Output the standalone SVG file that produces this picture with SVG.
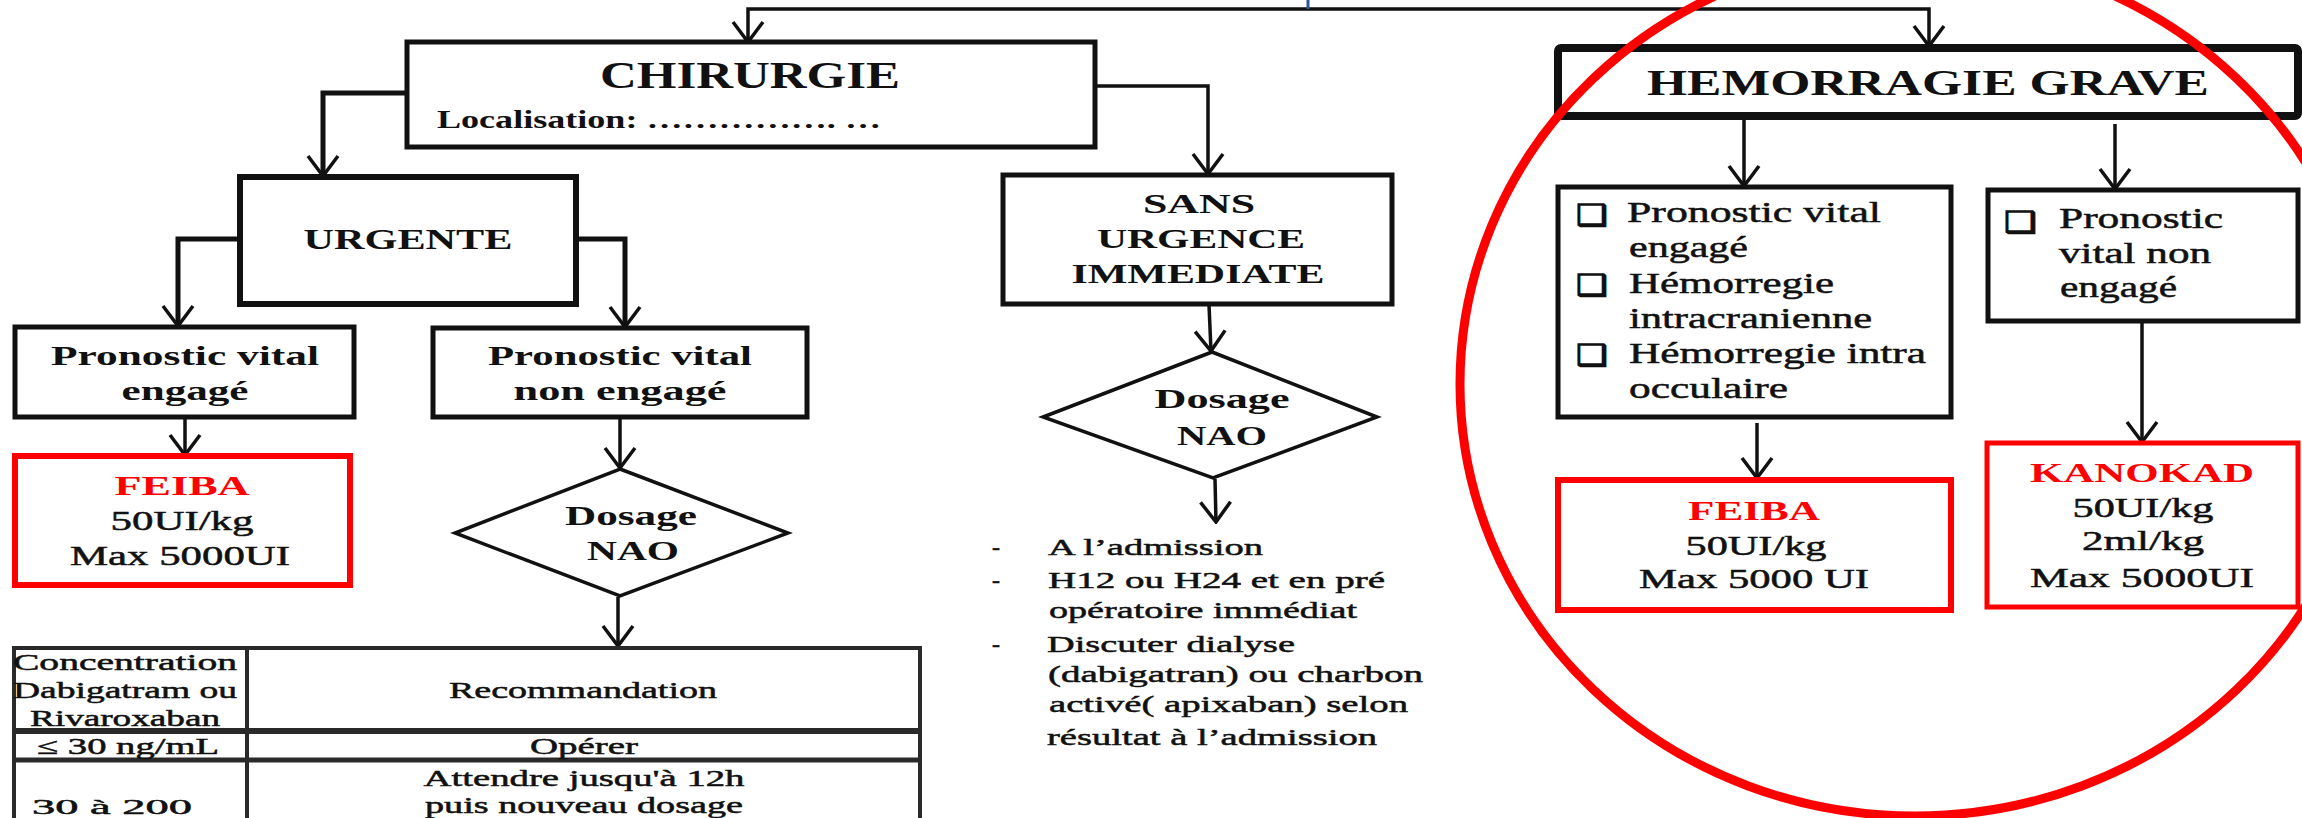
<svg xmlns="http://www.w3.org/2000/svg" width="2302" height="818" viewBox="0 0 2302 818">
<style>
text{font-family:"Liberation Serif","Times New Roman",serif;fill:#111}
.b{font-weight:bold}
.r{stroke:#111;stroke-width:0.5}
.c{text-anchor:middle}
.red{fill:#f00}
.box{fill:#fff;stroke:#111}
.rbox{fill:#fff;stroke:#f00}
.ln{fill:none;stroke:#111;stroke-width:3.5}
.tb{fill:none;stroke:#2a2a2a;stroke-width:4}
.chk{font-family:"DejaVu Sans",sans-serif;font-weight:bold;stroke:#111;stroke-width:1.2}
</style>
<defs>
<marker id="ah" viewBox="-2 -2 24 34" refX="20" refY="15" markerWidth="24" markerHeight="34" markerUnits="userSpaceOnUse" orient="auto">
<path d="M0,0 L20,15 L0,30" fill="none" stroke="#111" stroke-width="3.5"/>
</marker>
</defs>
<rect width="2302" height="818" fill="#fff"/>

<g id="connectors">
<path class="ln" d="M1308,9 L748,9 L748,42" marker-end="url(#ah)"/>
<path class="ln" d="M1308,9 L1929,9 L1929,46" marker-end="url(#ah)"/>
<line x1="1308" y1="0" x2="1308" y2="9" stroke="#2E5597" stroke-width="3"/>
<path class="ln" style="stroke-width:5" d="M407,93 L323,93 L323,176" marker-end="url(#ah)"/>
<path class="ln" d="M1094,86 L1208,86 L1208,174" marker-end="url(#ah)"/>
<path class="ln" style="stroke-width:5" d="M240,239 L178,239 L178,326" marker-end="url(#ah)"/>
<path class="ln" style="stroke-width:5" d="M576,239 L625,239 L625,327" marker-end="url(#ah)"/>
<path class="ln" d="M185,418 L185,455" marker-end="url(#ah)"/>
<path class="ln" d="M620,418 L620,468" marker-end="url(#ah)"/>
<path class="ln" d="M618,597 L618,646" marker-end="url(#ah)"/>
<path class="ln" d="M1209,305 L1211,351" marker-end="url(#ah)"/>
<path class="ln" d="M1215,479 L1216,522" marker-end="url(#ah)"/>
<path class="ln" d="M1744,118 L1744,186" marker-end="url(#ah)"/>
<path class="ln" d="M2115,124 L2115,189" marker-end="url(#ah)"/>
<path class="ln" d="M1757,423 L1757,478" marker-end="url(#ah)"/>
<path class="ln" d="M2142,322 L2142,442" marker-end="url(#ah)"/>
</g>

<g id="chirurgie">
<rect class="box" x="407" y="42" width="688" height="105" stroke-width="5"/>
<text class="b c" x="750" y="88" font-size="38" textLength="300" lengthAdjust="spacingAndGlyphs">CHIRURGIE</text>
<text class="b" x="437" y="128" font-size="25" textLength="444" lengthAdjust="spacingAndGlyphs">Localisation: ……………. …</text>
</g>

<g id="urgente">
<rect class="box" x="240" y="177" width="336" height="127" stroke-width="6"/>
<text class="b c" x="408" y="249" font-size="29" textLength="209" lengthAdjust="spacingAndGlyphs">URGENTE</text>
</g>

<g id="pv-engage">
<rect class="box" x="15" y="327" width="339" height="90" stroke-width="5"/>
<text class="b c" x="185" y="365" font-size="28" textLength="268" lengthAdjust="spacingAndGlyphs">Pronostic vital</text>
<text class="b c" x="185" y="400" font-size="28" textLength="127" lengthAdjust="spacingAndGlyphs">engagé</text>
</g>

<g id="pv-non-engage">
<rect class="box" x="433" y="328" width="374" height="89" stroke-width="5"/>
<text class="b c" x="620" y="365" font-size="28" textLength="264" lengthAdjust="spacingAndGlyphs">Pronostic vital</text>
<text class="b c" x="620" y="400" font-size="28" textLength="213" lengthAdjust="spacingAndGlyphs">non engagé</text>
</g>

<g id="feiba-1">
<rect class="rbox" x="15" y="456" width="335" height="129" stroke-width="6"/>
<text class="b c red" x="182" y="495" font-size="28" textLength="135" lengthAdjust="spacingAndGlyphs">FEIBA</text>
<text class="c r" x="182" y="530" font-size="28" textLength="143" lengthAdjust="spacingAndGlyphs">50UI/kg</text>
<text class="c r" x="180" y="565" font-size="28" textLength="220" lengthAdjust="spacingAndGlyphs">Max 5000UI</text>
</g>

<g id="dosage-nao-1">
<polygon class="box" points="620,469 788,533 620,596 455,533" stroke-width="3.5"/>
<text class="b c" x="631" y="525" font-size="28" textLength="132" lengthAdjust="spacingAndGlyphs">Dosage</text>
<text class="b c" x="633" y="560" font-size="28" textLength="92" lengthAdjust="spacingAndGlyphs">NAO</text>
</g>

<g id="tableau">
<rect class="tb" x="14" y="648" width="906" height="190"/>
<line class="tb" x1="247" y1="648" x2="247" y2="830"/>
<line class="tb" x1="14" y1="731" x2="920" y2="731" style="stroke-width:6"/>
<line class="tb" x1="14" y1="760" x2="920" y2="760" style="stroke-width:5"/>
<text class="c r" x="125" y="670" font-size="23" textLength="224" lengthAdjust="spacingAndGlyphs">Concentration</text>
<text class="c r" x="125" y="698" font-size="23" textLength="224" lengthAdjust="spacingAndGlyphs">Dabigatram ou</text>
<text class="c r" x="125" y="726" font-size="23" textLength="190" lengthAdjust="spacingAndGlyphs">Rivaroxaban</text>
<text class="c r" x="583" y="698" font-size="23" textLength="268" lengthAdjust="spacingAndGlyphs">Recommandation</text>
<text class="c r" x="128" y="754" font-size="23" textLength="182" lengthAdjust="spacingAndGlyphs">≤ 30 ng/mL</text>
<text class="c r" x="584" y="754" font-size="23" textLength="108" lengthAdjust="spacingAndGlyphs">Opérer</text>
<text class="c r" x="584" y="786" font-size="23" textLength="321" lengthAdjust="spacingAndGlyphs">Attendre jusqu'à 12h</text>
<text class="c r" x="584" y="813" font-size="23" textLength="318" lengthAdjust="spacingAndGlyphs">puis nouveau dosage</text>
<text class="c r" x="112" y="814" font-size="21" textLength="160" lengthAdjust="spacingAndGlyphs">30 à 200</text>
</g>

<g id="sans-urgence">
<rect class="box" x="1003" y="175" width="389" height="129" stroke-width="5"/>
<text class="b c" x="1199" y="213" font-size="28" textLength="112" lengthAdjust="spacingAndGlyphs">SANS</text>
<text class="b c" x="1201" y="248" font-size="28" textLength="208" lengthAdjust="spacingAndGlyphs">URGENCE</text>
<text class="b c" x="1198" y="283" font-size="28" textLength="253" lengthAdjust="spacingAndGlyphs">IMMEDIATE</text>
</g>

<g id="dosage-nao-2">
<polygon class="box" points="1212,352 1377,417 1213,478 1043,417" stroke-width="3.5"/>
<text class="b c" x="1222" y="408" font-size="28" textLength="135" lengthAdjust="spacingAndGlyphs">Dosage</text>
<text class="b c" x="1222" y="445" font-size="28" textLength="90" lengthAdjust="spacingAndGlyphs">NAO</text>
</g>

<g id="liste-dosage">
<text class="r" x="992" y="555" font-size="24">-</text>
<text class="r" x="992" y="588" font-size="24">-</text>
<text class="r" x="992" y="652" font-size="24">-</text>
<text class="r" x="1048" y="555" font-size="24" textLength="215" lengthAdjust="spacingAndGlyphs">A l’admission</text>
<text class="r" x="1048" y="588" font-size="24" textLength="337" lengthAdjust="spacingAndGlyphs">H12 ou H24 et en pré</text>
<text class="r" x="1049" y="618" font-size="24" textLength="308" lengthAdjust="spacingAndGlyphs">opératoire immédiat</text>
<text class="r" x="1047" y="652" font-size="24" textLength="248" lengthAdjust="spacingAndGlyphs">Discuter dialyse</text>
<text class="r" x="1048" y="682" font-size="24" textLength="375" lengthAdjust="spacingAndGlyphs">(dabigatran) ou charbon</text>
<text class="r" x="1049" y="712" font-size="24" textLength="359" lengthAdjust="spacingAndGlyphs">activé( apixaban) selon</text>
<text class="r" x="1047" y="745" font-size="24" textLength="330" lengthAdjust="spacingAndGlyphs">résultat à l’admission</text>
</g>

<g id="hemorragie-grave">
<rect class="box" x="1558" y="48" width="740" height="68" rx="3" stroke-width="8"/>
<text class="b c" x="1928" y="95" font-size="35" textLength="562" lengthAdjust="spacingAndGlyphs">HEMORRAGIE GRAVE</text>
</g>

<g id="hg-pv-engage">
<rect class="box" x="1558" y="187" width="393" height="230" stroke-width="5"/>
<text class="chk" x="1576" y="225" font-size="29" textLength="32" lengthAdjust="spacingAndGlyphs">❑</text>
<text class="chk" x="1576" y="295" font-size="29" textLength="32" lengthAdjust="spacingAndGlyphs">❑</text>
<text class="chk" x="1576" y="365" font-size="29" textLength="32" lengthAdjust="spacingAndGlyphs">❑</text>
<text class="r" x="1627" y="222" font-size="29" textLength="254" lengthAdjust="spacingAndGlyphs">Pronostic vital</text>
<text class="r" x="1629" y="257" font-size="29" textLength="119" lengthAdjust="spacingAndGlyphs">engagé</text>
<text class="r" x="1629" y="293" font-size="29" textLength="205" lengthAdjust="spacingAndGlyphs">Hémorregie</text>
<text class="r" x="1629" y="328" font-size="29" textLength="243" lengthAdjust="spacingAndGlyphs">intracranienne</text>
<text class="r" x="1629" y="363" font-size="29" textLength="297" lengthAdjust="spacingAndGlyphs">Hémorregie intra</text>
<text class="r" x="1629" y="398" font-size="29" textLength="159" lengthAdjust="spacingAndGlyphs">occulaire</text>
</g>

<g id="hg-pv-non-engage">
<rect class="box" x="1988" y="190" width="310" height="131" stroke-width="5"/>
<text class="chk" x="2004" y="232" font-size="29" textLength="33" lengthAdjust="spacingAndGlyphs">❑</text>
<text class="r" x="2059" y="228" font-size="29" textLength="164" lengthAdjust="spacingAndGlyphs">Pronostic</text>
<text class="r" x="2059" y="263" font-size="29" textLength="152" lengthAdjust="spacingAndGlyphs">vital non</text>
<text class="r" x="2060" y="297" font-size="29" textLength="117" lengthAdjust="spacingAndGlyphs">engagé</text>
</g>

<g id="feiba-2">
<rect class="rbox" x="1558" y="480" width="393" height="130" stroke-width="6"/>
<text class="b c red" x="1754" y="520" font-size="28" textLength="132" lengthAdjust="spacingAndGlyphs">FEIBA</text>
<text class="c r" x="1756" y="555" font-size="28" textLength="141" lengthAdjust="spacingAndGlyphs">50UI/kg</text>
<text class="c r" x="1754" y="588" font-size="28" textLength="230" lengthAdjust="spacingAndGlyphs">Max 5000 UI</text>
</g>

<g id="kanokad">
<rect class="rbox" x="1987" y="443" width="311" height="164" stroke-width="5"/>
<text class="b c red" x="2142" y="482" font-size="28" textLength="224" lengthAdjust="spacingAndGlyphs">KANOKAD</text>
<text class="c r" x="2143" y="517" font-size="28" textLength="141" lengthAdjust="spacingAndGlyphs">50UI/kg</text>
<text class="c r" x="2143" y="550" font-size="28" textLength="122" lengthAdjust="spacingAndGlyphs">2ml/kg</text>
<text class="c r" x="2142" y="587" font-size="28" textLength="224" lengthAdjust="spacingAndGlyphs">Max 5000UI</text>
</g>

<g id="cercle-rouge">
<ellipse cx="1915" cy="384" rx="455" ry="432" fill="none" stroke="#f00" stroke-width="9"/>
</g>
</svg>
